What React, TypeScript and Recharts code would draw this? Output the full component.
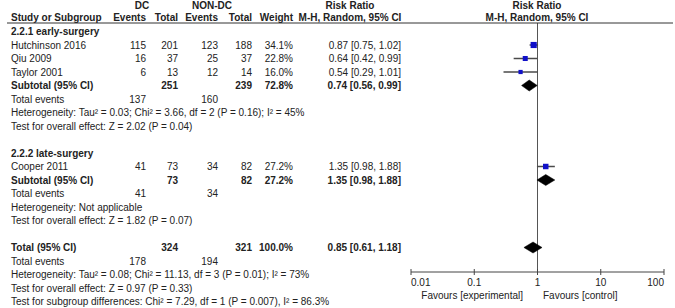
import React from 'react';
import { ComposedChart, Scatter, XAxis, YAxis, ReferenceLine } from 'recharts';

const W = 675;
const H = 308;
const FONT = '"Liberation Sans", Arial, sans-serif';
const INK = '#222';

// individual studies
const studies = ['Hutchinson 2016', 'Qiu 2009', 'Taylor 2001', 'Cooper 2011'];
const dcEvents = [115, 16, 6, 41];
const dcTotal = [201, 37, 13, 73];
const nonEvents = [123, 25, 12, 34];
const nonTotal = [188, 37, 14, 82];
const weights = [34.1, 22.8, 16.0, 27.2];
const rr = [0.87, 0.64, 0.54, 1.35];
const rrLow = [0.75, 0.42, 0.29, 0.98];
const rrHigh = [1.02, 0.99, 1.01, 1.88];

// pooled results (subtotal 2.2.1, subtotal 2.2.2, overall)
const pooledLabels = ['Subtotal (95% CI)', 'Subtotal (95% CI)', 'Total (95% CI)'];
const pooledDcTotal = [251, 73, 324];
const pooledNonTotal = [239, 82, 321];
const pooledWeight = [72.8, 27.2, 100.0];
const pooledRR = [0.74, 1.35, 0.85];
const pooledLow = [0.56, 0.98, 0.61];
const pooledHigh = [0.99, 1.88, 1.18];
const totalEventsDc = [137, 41, 178];
const totalEventsNon = [160, 34, 194];

const subgroups = ['2.2.1 early-surgery', '2.2.2 late-surgery'];
const heterogeneity = [
  'Heterogeneity: Tau\u00b2 = 0.03; Chi\u00b2 = 3.66, df = 2 (P = 0.16); I\u00b2 = 45%',
  'Heterogeneity: Not applicable',
  'Heterogeneity: Tau\u00b2 = 0.08; Chi\u00b2 = 11.13, df = 3 (P = 0.01); I\u00b2 = 73%',
];
const overallEffect = [
  'Test for overall effect: Z = 2.02 (P = 0.04)',
  'Test for overall effect: Z = 1.82 (P = 0.07)',
  'Test for overall effect: Z = 0.97 (P = 0.33)',
];
const subgroupTest = 'Test for subgroup differences: Chi\u00b2 = 7.29, df = 1 (P = 0.007), I\u00b2 = 86.3%';

const xTicks = [0.01, 0.1, 1, 10, 100];

// layout: table row of each item
const studyRow = [1, 2, 3, 10];
const pooledRow = [4, 11, 16];
const subgroupRow = [0, 9];

const ROW_Y0 = 31.5;
const ROW_H = 13.5;
const rowY = (r: number) => ROW_Y0 + r * ROW_H;
const PLOT_TOP = 23;
const AXIS_Y = 272;
const PLOT_LEFT = 411;
const PLOT_RIGHT = 664;

const COL = { ev1: 146, tot1: 178, ev2: 218, tot2: 252, weight: 293, ci: 401, ciMid: 350, forest: 537 };

const fmt = (v: number) => v.toFixed(2);
const ciText = (e: number, l: number, h: number) => `${fmt(e)} [${fmt(l)}, ${fmt(h)}]`;

const T = ({ x, y, anchor = 'start', bold = false, children }: any) => (
  <text x={x} y={y} dy="0.35em" textAnchor={anchor} fontFamily={FONT} fontSize={10}
    fontWeight={bold ? 'bold' : 'normal'} fill={INK}>{children}</text>
);

const Nothing = () => <g />;

const CiLine = (props: any) => {
  const p = props.points || [];
  if (p.length < 2) return <g />;
  return <line x1={p[0].x} y1={p[0].y} x2={p[1].x} y2={p[1].y} stroke="#4a4a4a" strokeWidth={1.5} />;
};

const DiamondLine = (props: any) => {
  const p = props.points || [];
  if (p.length < 3) return <g />;
  const h = 5.5;
  const pts = `${p[0].x},${p[0].y} ${p[1].x},${p[1].y - h} ${p[2].x},${p[2].y} ${p[1].x},${p[1].y + h}`;
  return <polygon points={pts} fill="#000" stroke="#000" strokeWidth={0.5} />;
};

const StudySquare = (props: any) => {
  const { cx, cy, payload } = props;
  const s = Math.sqrt(payload.w) * 1.05;
  return <rect x={cx - s / 2} y={cy - s / 2} width={s} height={s} fill="#1010c8" />;
};

const AxisTick = (props: any) => {
  const { x, payload, index } = props;
  const anchor = index === 0 ? 'start' : index === xTicks.length - 1 ? 'end' : 'middle';
  return (
    <g>
      <line x1={x} x2={x} y1={AXIS_Y - 3} y2={AXIS_Y + 3} stroke="#444" />
      <text x={x} y={AXIS_Y + 10} dy="0.35em" textAnchor={anchor} fontFamily={FONT} fontSize={10} fill={INK}>
        {String(payload.value)}
      </text>
    </g>
  );
};

function Table() {
  const rows: React.ReactNode[] = [];
  subgroups.forEach((s, i) => rows.push(<T key={'sg' + i} x={11} y={rowY(subgroupRow[i])} bold>{s}</T>));
  studies.forEach((s, i) => {
    const y = rowY(studyRow[i]);
    rows.push(
      <g key={'st' + i}>
        <T x={11} y={y}>{s}</T>
        <T x={COL.ev1} y={y} anchor="end">{dcEvents[i]}</T>
        <T x={COL.tot1} y={y} anchor="end">{dcTotal[i]}</T>
        <T x={COL.ev2} y={y} anchor="end">{nonEvents[i]}</T>
        <T x={COL.tot2} y={y} anchor="end">{nonTotal[i]}</T>
        <T x={COL.weight} y={y} anchor="end">{weights[i].toFixed(1)}%</T>
        <T x={COL.ci} y={y} anchor="end">{ciText(rr[i], rrLow[i], rrHigh[i])}</T>
      </g>
    );
  });
  pooledLabels.forEach((s, i) => {
    const r = pooledRow[i];
    const y = rowY(r);
    rows.push(
      <g key={'pl' + i}>
        <T x={11} y={y} bold>{s}</T>
        <T x={COL.tot1} y={y} anchor="end" bold>{pooledDcTotal[i]}</T>
        <T x={COL.tot2} y={y} anchor="end" bold>{pooledNonTotal[i]}</T>
        <T x={COL.weight} y={y} anchor="end" bold>{pooledWeight[i].toFixed(1)}%</T>
        <T x={COL.ci} y={y} anchor="end" bold>{ciText(pooledRR[i], pooledLow[i], pooledHigh[i])}</T>
        <T x={11} y={rowY(r + 1)}>Total events</T>
        <T x={COL.ev1} y={rowY(r + 1)} anchor="end">{totalEventsDc[i]}</T>
        <T x={COL.ev2} y={rowY(r + 1)} anchor="end">{totalEventsNon[i]}</T>
        <T x={11} y={rowY(r + 2)}>{heterogeneity[i]}</T>
        <T x={11} y={rowY(r + 3)}>{overallEffect[i]}</T>
      </g>
    );
  });
  rows.push(<T key="sgt" x={11} y={rowY(20)}>{subgroupTest}</T>);

  return (
    <svg width={W} height={H} style={{ position: 'absolute', left: 0, top: 0, pointerEvents: 'none' }}>
      <T x={142} y={5} anchor="middle" bold>DC</T>
      <T x={212} y={5} anchor="middle" bold>NON-DC</T>
      <T x={COL.ciMid} y={5} anchor="middle" bold>Risk Ratio</T>
      <T x={COL.forest} y={5} anchor="middle" bold>Risk Ratio</T>
      <T x={11} y={17} bold>Study or Subgroup</T>
      <T x={COL.ev1} y={17} anchor="end" bold>Events</T>
      <T x={COL.tot1} y={17} anchor="end" bold>Total</T>
      <T x={COL.ev2} y={17} anchor="end" bold>Events</T>
      <T x={COL.tot2} y={17} anchor="end" bold>Total</T>
      <T x={COL.weight} y={17} anchor="end" bold>Weight</T>
      <T x={COL.ciMid} y={17} anchor="middle" bold>M-H, Random, 95% CI</T>
      <T x={COL.forest} y={17} anchor="middle" bold>M-H, Random, 95% CI</T>
      <line x1={7} x2={673} y1={PLOT_TOP} y2={PLOT_TOP} stroke="#333" strokeWidth={1} />
      {rows}
      <T x={523} y={295} anchor="end">Favours [experimental]</T>
      <T x={543} y={295}>Favours [control]</T>
    </svg>
  );
}

export default function App() {
  const squares = studies.map((s, i) => ({ x: rr[i], y: studyRow[i], w: weights[i] }));
  const yDomain = [(PLOT_TOP - ROW_Y0) / ROW_H, (AXIS_Y - ROW_Y0) / ROW_H];
  return (
    <div style={{ position: 'absolute', left: 0, top: 0, width: W, height: H, background: '#fff' }}>
      <ComposedChart width={W} height={H}
        margin={{ top: PLOT_TOP, right: W - PLOT_RIGHT, bottom: H - AXIS_Y - 30, left: PLOT_LEFT }}>
        <XAxis dataKey="x" type="number" scale="log" domain={[0.01, 100]} ticks={xTicks} interval={0}
          allowDataOverflow height={30} tickLine={false} tickSize={0} tickMargin={0}
          axisLine={{ stroke: '#444' }} tick={<AxisTick />} />
        <YAxis dataKey="y" type="number" domain={yDomain} reversed hide allowDataOverflow />
        <ReferenceLine x={1} stroke="#555" strokeWidth={1} />
        {studies.map((s, i) => (
          <Scatter key={'ci' + i} data={[{ x: rrLow[i], y: studyRow[i] }, { x: rrHigh[i], y: studyRow[i] }]}
            line={CiLine} shape={Nothing} isAnimationActive={false} />
        ))}
        <Scatter data={squares} shape={StudySquare} isAnimationActive={false} />
        {pooledRR.map((v, i) => (
          <Scatter key={'d' + i}
            data={[{ x: pooledLow[i], y: pooledRow[i] }, { x: v, y: pooledRow[i] }, { x: pooledHigh[i], y: pooledRow[i] }]}
            line={DiamondLine} shape={Nothing} isAnimationActive={false} />
        ))}
      </ComposedChart>
      <Table />
    </div>
  );
}
